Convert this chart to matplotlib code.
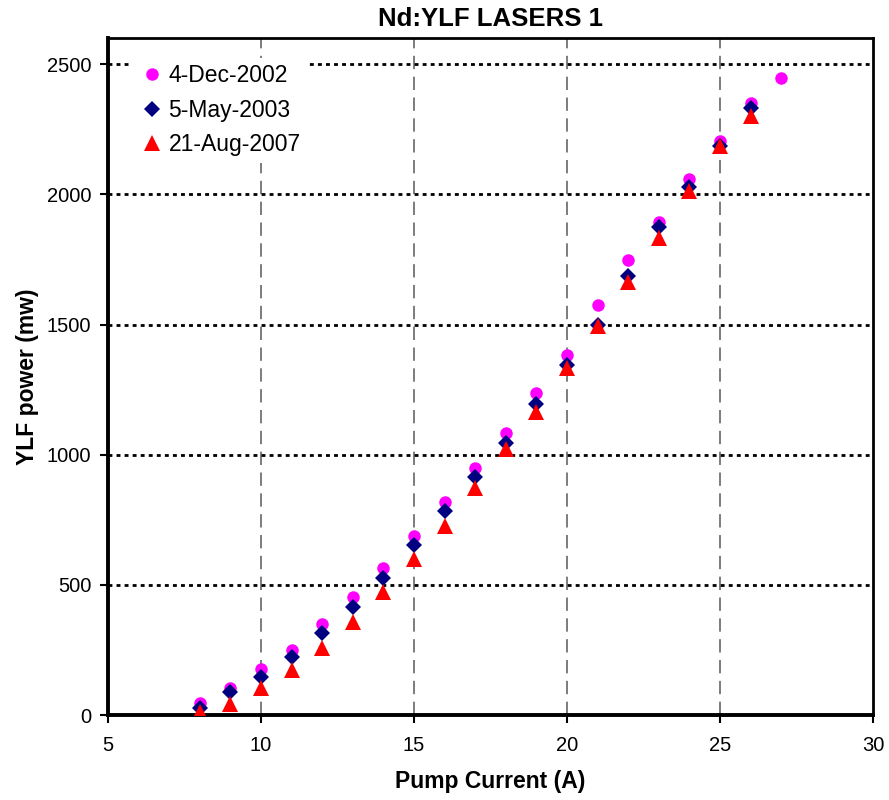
import matplotlib
matplotlib.use("Agg")
import matplotlib.pyplot as plt

plt.rcParams['font.family'] = ['Liberation Sans', 'DejaVu Sans']

# pump current (A)
current_2002 = [8, 9, 10, 11, 12, 13, 14, 15, 16, 17, 18, 19, 20, 21, 22, 23, 24, 25, 26, 27]
power_2002 = [48, 106, 177, 250, 350, 454, 564, 687, 818, 949, 1084, 1237, 1384, 1574, 1746, 1894, 2060, 2204, 2352, 2446]

current_2003 = [8, 9, 10, 11, 12, 13, 14, 15, 16, 17, 18, 19, 20, 21, 22, 23, 24, 25, 26]
power_2003 = [26, 88, 147, 223, 316, 415, 525, 654, 785, 914, 1045, 1193, 1345, 1500, 1685, 1874, 2027, 2185, 2332]

current_2007 = [8, 9, 10, 11, 12, 13, 14, 15, 16, 17, 18, 19, 20, 21, 22, 23, 24, 25, 26]
power_2007 = [12, 43, 104, 173, 257, 358, 473, 600, 727, 873, 1023, 1165, 1333, 1496, 1665, 1834, 2013, 2185, 2300]

labels = ['4-Dec-2002', '5-May-2003', '21-Aug-2007']

fig = plt.figure(figsize=(8.89, 8.0), dpi=100)
ax = fig.add_axes([0.1215, 0.106, 0.8605, 0.8465])

ax.plot(current_2002, power_2002, 'o', color='#ff00ff', markersize=9, markeredgewidth=0, label=labels[0], zorder=3)
ax.plot(current_2003, power_2003, 'D', color='#000080', markersize=8, markeredgewidth=0, label=labels[1], zorder=4)
ax.plot(current_2007, power_2007, '^', color='#ff0000', markersize=11, markeredgewidth=0, label=labels[2], zorder=5)

ax.set_xlim(5, 30)
ax.set_ylim(0, 2600)
ax.set_xticks([5, 10, 15, 20, 25, 30])
ax.set_yticks([0, 500, 1000, 1500, 2000, 2500])

for x in [10, 15, 20, 25]:
	ax.axvline(x, color='#666666', linestyle=(0, (8, 4.5)), linewidth=1.2, zorder=1)
for y in [500, 1000, 1500, 2000, 2500]:
	ax.axhline(y, color='black', linestyle=(0, (1.4, 1.5)), linewidth=2, zorder=1)

for side in ['left', 'bottom']:
	ax.spines[side].set_linewidth(2.8)
for side in ['top', 'right']:
	ax.spines[side].set_linewidth(2)

ax.tick_params(axis='both', direction='out', length=6, width=1.5, labelsize=14.5)
ax.tick_params(axis='x', pad=9)
ax.tick_params(axis='y', pad=6)

ax.set_title('Nd:YLF LASERS 1', fontsize=18.5, fontweight='bold', pad=9)
ax.set_xlabel('Pump Current (A)', fontsize=16.5, fontweight='bold', labelpad=11)
ax.set_ylabel('YLF power (mw)', fontsize=16.5, fontweight='bold', labelpad=6)

leg = ax.legend(loc='upper left', bbox_to_anchor=(0.016, 0.988), frameon=True, fontsize=16.5,
	handletextpad=0.1, labelspacing=0.5, borderpad=0.3, handlelength=1.2)
leg.get_frame().set_edgecolor('none')
leg.get_frame().set_facecolor('white')
leg.get_frame().set_alpha(1)
leg.set_zorder(6)

fig.savefig('out.png', dpi=100)
